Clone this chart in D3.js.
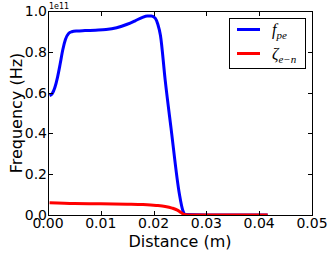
<!DOCTYPE html>
<html>
<head>
<meta charset="utf-8">
<script src="https://cdn.jsdelivr.net/npm/d3@7"></script>
<style>
  body { margin: 0; background: #fff; }
  svg { display: block; }
</style>
</head>
<body>
<svg id="chart"></svg>
<script>
(function() {

// data (y in units of 1e11 Hz)
var fpeX = [0.0003, 0.0008, 0.0013, 0.0018, 0.0023, 0.0028, 0.0033, 0.0039, 0.0045, 0.0055, 0.007, 0.009, 0.011, 0.013, 0.015, 0.0165, 0.0178, 0.0188, 0.0196, 0.0203, 0.0208, 0.0213, 0.0222, 0.0233, 0.0249, 0.0255, 0.0261, 0.03, 0.0416];
var fpeY = [0.585, 0.595, 0.625, 0.675, 0.74, 0.81, 0.86, 0.89, 0.898, 0.902, 0.904, 0.906, 0.909, 0.918, 0.935, 0.952, 0.968, 0.976, 0.976, 0.965, 0.935, 0.88, 0.66, 0.426, 0.10, 0.025, 0.002, 0, 0];
var zetaX = [0.0003, 0.005, 0.01, 0.015, 0.018, 0.0205, 0.0222, 0.0235, 0.0245, 0.0252, 0.0258, 0.027, 0.035, 0.0416];
var zetaY = [0.06, 0.056, 0.055, 0.053, 0.051, 0.047, 0.042, 0.034, 0.024, 0.012, 0.003, 0, 0, 0];
var xTicks = [0, 0.01, 0.02, 0.03, 0.04, 0.05];
var yTicks = [0, 0.2, 0.4, 0.6, 0.8, 1.0];

var full_width = 332, full_height = 256;
var left = 48, right = 312, top = 11, bottom = 215;

var svg = d3.select("#chart")
    .attr("width", full_width)
    .attr("height", full_height);

var x = d3.scaleLinear().domain([0, 0.05]).range([left, right]);
var y = d3.scaleLinear().domain([0, 1.0]).range([bottom, top]);

var font = "'DejaVu Sans', sans-serif";

// curves
var line = d3.line()
    .x(function(d) { return x(d[0]); })
    .y(function(d) { return y(d[1]); })
    .curve(d3.curveMonotoneX);

var series = [
  { xs: fpeX, ys: fpeY, color: "#0000ff" },
  { xs: zetaX, ys: zetaY, color: "#ff0000" }
];

var clip = svg.append("clipPath").attr("id", "clip")
  .append("rect").attr("x", left).attr("y", top - 2)
  .attr("width", right - left).attr("height", bottom - top + 2);

svg.append("g").attr("clip-path", "url(#clip)")
  .selectAll("path")
  .data(series)
  .enter().append("path")
    .attr("fill", "none")
    .attr("stroke", function(d) { return d.color; })
    .attr("stroke-width", 3)
    .attr("stroke-linejoin", "round")
    .attr("d", function(d) { return line(d.xs.map(function(v, i) { return [v, d.ys[i]]; })); });

// frame
svg.append("rect")
    .attr("x", left + 0.5).attr("y", top + 0.5)
    .attr("width", right - left).attr("height", bottom - top)
    .attr("fill", "none").attr("stroke", "#000").attr("stroke-width", 1);

// ticks (inward, all four sides)
var tk = svg.append("g").attr("stroke", "#000").attr("stroke-width", 1);
xTicks.forEach(function(t) {
  var px = Math.round(x(t)) + 0.5;
  tk.append("line").attr("x1", px).attr("x2", px).attr("y1", bottom).attr("y2", bottom - 4);
  tk.append("line").attr("x1", px).attr("x2", px).attr("y1", top + 1).attr("y2", top + 5);
});
yTicks.forEach(function(t) {
  var py = Math.round(y(t)) + 0.5;
  tk.append("line").attr("x1", left + 1).attr("x2", left + 5).attr("y1", py).attr("y2", py);
  tk.append("line").attr("x1", right).attr("x2", right - 4).attr("y1", py).attr("y2", py);
});

// tick labels
svg.append("g").selectAll("text")
  .data(xTicks)
  .enter().append("text")
    .attr("x", function(d) { return x(d); })
    .attr("y", 228)
    .attr("text-anchor", "middle")
    .style("font-family", font)
    .attr("font-size", 14)
    .text(function(d) { return d3.format(".2f")(d); });

svg.append("g").selectAll("text")
  .data(yTicks)
  .enter().append("text")
    .attr("x", 47)
    .attr("y", function(d) { return y(d); })
    .attr("dy", "0.36em")
    .attr("text-anchor", "end")
    .style("font-family", font)
    .attr("font-size", 14)
    .text(function(d) { return d3.format(".1f")(d); });

// offset text
svg.append("text")
    .attr("x", 49).attr("y", 9)
    .style("font-family", font)
    .attr("font-size", 8)
    .text("1e11");

// axis labels
svg.append("text")
    .attr("x", (left + right) / 2).attr("y", 247)
    .attr("text-anchor", "middle")
    .style("font-family", font)
    .attr("font-size", 16)
    .text("Distance (m)");

svg.append("text")
    .attr("transform", "translate(22," + ((top + bottom) / 2) + ") rotate(-90)")
    .attr("text-anchor", "middle")
    .style("font-family", font)
    .attr("font-size", 16)
    .text("Frequency (Hz)");

// legend
var legend = svg.append("g");
legend.append("rect")
    .attr("x", 229.5).attr("y", 18.5)
    .attr("width", 76).attr("height", 50)
    .attr("fill", "#fff").attr("stroke", "#000").attr("stroke-width", 1);

var labels = [["f", "pe"], ["\u03b6", "e\u2212n"]];
labels.forEach(function(l, i) {
  var ly = 29.5 + i * 24;
  legend.append("line")
      .attr("x1", 237).attr("x2", 260)
      .attr("y1", ly).attr("y2", ly)
      .attr("stroke", series[i].color).attr("stroke-width", 3);
  var t = legend.append("text")
      .attr("x", 272).attr("y", ly + 5)
      .style("font-family", "'Liberation Serif', serif")
      .style("font-style", "italic")
      .attr("font-size", 16);
  t.append("tspan").text(l[0]);
  t.append("tspan").attr("font-size", 11).attr("dy", 4).text(l[1]);
});

})();
</script>
</body>
</html>
